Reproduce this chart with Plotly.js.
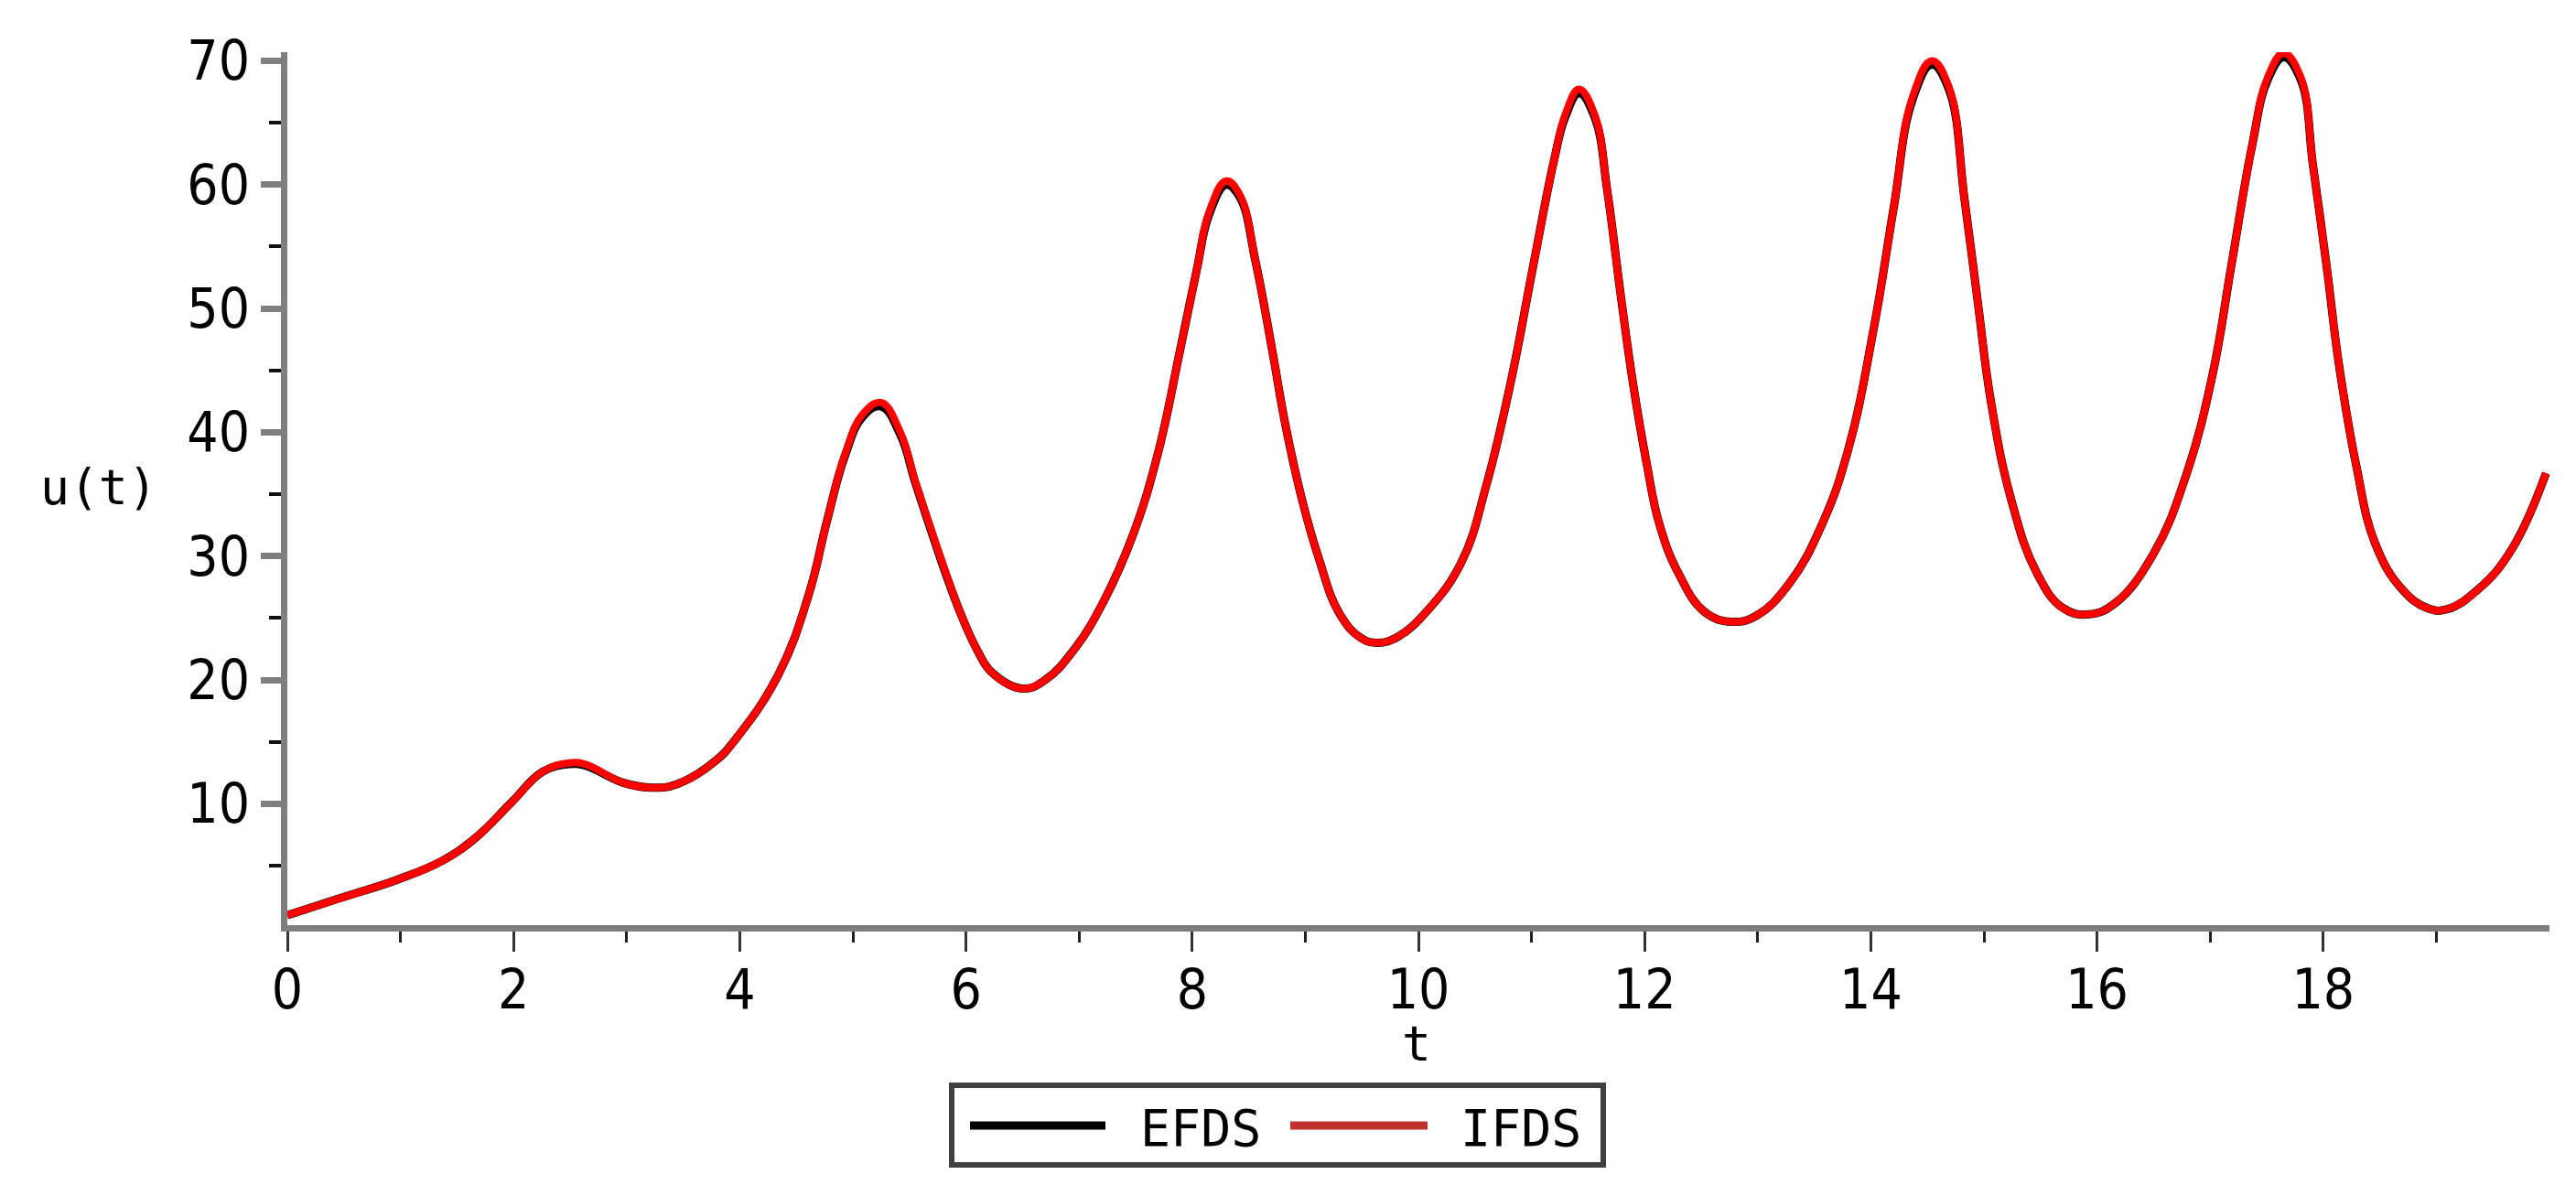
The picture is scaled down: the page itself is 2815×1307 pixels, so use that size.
<!DOCTYPE html>
<html>
<head>
<meta charset="utf-8">
<script src="https://cdn.plot.ly/plotly-3.0.1.min.js"></script>
<style>
  html, body { margin: 0; padding: 0; background: #fff; }
  #grafico { width: 2815px; height: 1307px; }
</style>
</head>
<body>
<div id="grafico"></div>
<script>
// Datos
const tValues = [
    0, 0.44, 0.98, 1.37, 1.67, 1.98, 2.26, 2.49, 2.63, 2.97,
    3.23, 3.45, 3.79, 3.97, 4.34, 4.61, 4.77, 4.93, 5.09, 5.25,
    5.42, 5.55, 5.69, 5.82, 5.96, 6.10, 6.23, 6.50, 6.70, 6.96,
    7.22, 7.48, 7.70, 7.89, 8.04, 8.15, 8.30, 8.42, 8.56, 8.71,
    8.82, 8.97, 9.12, 9.30, 9.49, 9.64, 9.82, 10.08, 10.38, 10.60,
    10.82, 11.01, 11.20, 11.30, 11.42, 11.56, 11.67, 11.79, 11.90, 12.02,
    12.13, 12.30, 12.53, 12.77, 12.99, 13.28, 13.57, 13.80, 14.03, 14.20,
    14.37, 14.54, 14.69, 14.83, 14.95, 15.06, 15.24, 15.47, 15.70, 15.93,
    16.16, 16.50, 16.79, 17.02, 17.19, 17.37, 17.51, 17.65, 17.80, 17.91,
    18.03, 18.14, 18.29, 18.46, 18.69, 18.92, 19.09, 19.38, 19.67, 19.97
]

const uEFDS = [
    1.0, 2.3, 3.9, 5.4, 7.3, 10.1, 12.6, 13.2, 13.1, 11.7,
    11.3, 11.6, 13.5, 15.3, 20.4, 26.9, 32.8, 38.1, 41.3, 42.1,
    39.8, 36.0, 32.1, 28.6, 25.2, 22.4, 20.6, 19.3, 20.0, 22.5,
    26.4, 31.8, 38.4, 46.5, 53.1, 57.6, 60.0, 59.0, 53.8, 46.5,
    40.8, 34.6, 29.8, 25.4, 23.4, 23.0, 23.5, 25.6, 29.5, 35.7,
    44.2, 53.2, 62.0, 65.5, 67.4, 65.4, 59.5, 51.0, 43.8, 37.4,
    32.6, 28.6, 25.5, 24.7, 25.2, 27.8, 32.6, 38.6, 48.6, 58.0,
    66.9, 69.7, 67.7, 58.7, 50.2, 42.6, 34.6, 28.6, 25.8, 25.3,
    26.2, 30.2, 36.6, 44.6, 53.6, 63.1, 68.5, 70.3, 68.5, 61.5,
    53.4, 45.4, 37.4, 31.0, 27.4, 25.8, 25.7, 27.4, 30.6, 36.7
]

const uIFDS = [
    1.0, 2.3, 3.9, 5.4, 7.3, 10.1, 12.6, 13.3, 13.2, 11.7,
    11.3, 11.6, 13.5, 15.3, 20.4, 26.9, 32.8, 38.2, 41.5, 42.4,
    40.0, 36.1, 32.2, 28.7, 25.2, 22.4, 20.6, 19.3, 20.0, 22.5,
    26.4, 31.8, 38.4, 46.5, 53.1, 57.8, 60.3, 59.2, 53.8, 46.5,
    40.8, 34.6, 29.8, 25.4, 23.4, 23.0, 23.5, 25.6, 29.5, 35.7,
    44.2, 53.2, 62.0, 65.7, 67.7, 65.6, 59.5, 51.0, 43.8, 37.4,
    32.6, 28.6, 25.5, 24.7, 25.2, 27.8, 32.6, 38.6, 48.6, 58.0,
    67.1, 70.0, 67.9, 58.7, 50.2, 42.6, 34.6, 28.6, 25.8, 25.3,
    26.2, 30.2, 36.6, 44.6, 53.6, 63.1, 68.7, 70.6, 68.7, 61.5,
    53.4, 45.4, 37.4, 31.0, 27.4, 25.8, 25.7, 27.4, 30.6, 36.7
]

const seriesNames = ['EFDS', 'IFDS']
const seriesColors = ['#000000', '#ff0000']

const xTicks = [0, 2, 4, 6, 8, 10, 12, 14, 16, 18]
const xMinorTicks = [1, 3, 5, 7, 9, 11, 13, 15, 17, 19]
const yTicks = [10, 20, 30, 40, 50, 60, 70]
const yMinorTicks = [5, 15, 25, 35, 45, 55, 65]

const xTitle = 't'
const yTitle = 'u(t)'

const grafico = document.getElementById('grafico')

// Medidas del area de trazado (pixeles)
const W = 2815, H = 1307
const mL = 314, mR = 29, mT = 57, mB = 296
const plotW = W - mL - mR
const plotH = H - mT - mB

// pixel -> coordenadas "paper"
function xp(px) { return (px - mL) / plotW }
function yp(py) { return (H - mB - py) / plotH }

const monoFont = 'DejaVu Sans Mono, Liberation Mono, monospace'
const tickFontFamily = 'DejaVu Sans Condensed, DejaVu Sans, sans-serif'

// Curvas
const efds = {
    x: tValues,
    y: uEFDS,
    mode: 'lines',
    line: { color: seriesColors[0], width: 9, shape: 'spline', smoothing: 1.2 },
    name: seriesNames[0],
    type: 'scatter'
}

const ifds = {
    x: tValues,
    y: uIFDS,
    mode: 'lines',
    line: { color: seriesColors[1], width: 8, shape: 'spline', smoothing: 1.2 },
    name: seriesNames[1],
    type: 'scatter'
}

// Leyenda dibujada a mano (caja, muestras de linea y textos)
const legendBox = { x0: 1040, x1: 1752, y0: 1186, y1: 1273 }
const legendRowY = 1230
const legendSamples = [[1060, 1208], [1410, 1560]]
const legendTextX = [1244, 1594]

const shapes = [{
    type: 'rect', xref: 'paper', yref: 'paper',
    x0: xp(legendBox.x0), x1: xp(legendBox.x1),
    y0: yp(legendBox.y1), y1: yp(legendBox.y0),
    line: { color: '#404040', width: 6 },
    fillcolor: '#ffffff'
}]
const annotations = []

seriesNames.forEach((name, i) => {
    shapes.push({
        type: 'line', xref: 'paper', yref: 'paper',
        x0: xp(legendSamples[i][0]), x1: xp(legendSamples[i][1]),
        y0: yp(legendRowY), y1: yp(legendRowY),
        line: { color: i === 0 ? '#000000' : '#c0302c', width: 9 }
    })
    annotations.push({
        xref: 'paper', yref: 'paper',
        x: xp(legendTextX[i]), y: yp(legendRowY + 3),
        xanchor: 'left', yanchor: 'middle',
        text: name, showarrow: false,
        font: { family: monoFont, size: 55, color: '#000' }
    })
})

// Titulos de los ejes
annotations.push({
    xref: 'paper', yref: 'paper',
    x: xp(108), y: yp(532),
    xanchor: 'center', yanchor: 'middle',
    text: yTitle, showarrow: false,
    font: { family: monoFont, size: 53, color: '#000' }
})
annotations.push({
    xref: 'paper', yref: 'paper',
    x: xp(1548), y: yp(1140),
    xanchor: 'center', yanchor: 'middle',
    text: xTitle, showarrow: false,
    font: { family: monoFont, size: 53, color: '#000' }
})

const layout = {
    width: W,
    height: H,
    margin: { l: mL, r: mR, t: mT, b: mB, pad: 0 },
    paper_bgcolor: '#ffffff',
    plot_bgcolor: '#ffffff',
    showlegend: false,
    xaxis: {
        range: [0, 20],
        tickvals: xTicks,
        ticktext: xTicks.map(String),
        ticks: 'outside',
        ticklen: 22,
        tickwidth: 3,
        tickcolor: '#333333',
        ticklabelstandoff: -10,
        tickfont: { family: tickFontFamily, size: 60, color: '#000' },
        minor: { tickvals: xMinorTicks, ticks: 'outside', ticklen: 12, tickwidth: 3, tickcolor: '#222222' },
        showline: true,
        linecolor: '#7f7f7f',
        linewidth: 7,
        showgrid: false,
        zeroline: false,
        fixedrange: true
    },
    yaxis: {
        range: [0.2, 70.7],
        tickvals: yTicks,
        ticktext: yTicks.map(String),
        ticks: 'outside',
        ticklen: 22,
        tickwidth: 7,
        tickcolor: '#7f7f7f',
        ticklabelstandoff: 0,
        tickfont: { family: tickFontFamily, size: 60, color: '#000' },
        minor: { tickvals: yMinorTicks, ticks: 'outside', ticklen: 13, tickwidth: 4, tickcolor: '#111111' },
        showline: true,
        linecolor: '#7f7f7f',
        linewidth: 7,
        showgrid: false,
        zeroline: false,
        fixedrange: true
    },
    shapes: shapes,
    annotations: annotations
}

Plotly.newPlot(grafico, [efds, ifds], layout, { displayModeBar: false, staticPlot: true })
</script>
</body>
</html>
